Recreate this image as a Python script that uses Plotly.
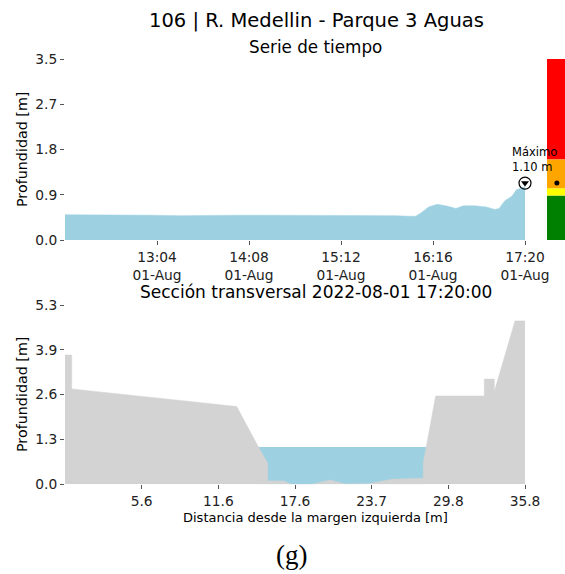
import plotly.graph_objects as go

# ---------------- data ----------------
times = ["12:00", "12:05", "12:20", "12:40", "13:00", "13:20", "13:40", "14:00",
         "14:20", "14:40", "15:00", "15:20", "15:40", "15:50", "16:00", "16:04",
         "16:08", "16:13", "16:19", "16:25", "16:32", "16:37", "16:45", "16:53",
         "16:59", "17:02", "17:06", "17:11", "17:14", "17:17", "17:20"]
depth = [0.49, 0.49, 0.48, 0.48, 0.48, 0.47, 0.48, 0.48,
         0.48, 0.48, 0.48, 0.48, 0.48, 0.47, 0.46, 0.46,
         0.53, 0.64, 0.69, 0.66, 0.61, 0.66, 0.66, 0.64,
         0.59, 0.61, 0.76, 0.85, 0.97, 1.00, 1.03]
day = "2022-08-01"
max_time = "17:20"
max_depth = 1.10

ts_ticks = ["13:04", "14:08", "15:12", "16:16", "17:20"]
ts_tick_labels = ["13:04<br>01-Aug", "14:08<br>01-Aug", "15:12<br>01-Aug",
                  "16:16<br>01-Aug", "17:20<br>01-Aug"]
ts_yticks = [0.0, 0.875, 1.75, 2.625, 3.5]
ts_ytick_labels = ["0.0", "0.9", "1.8", "2.7", "3.5"]

# alert levels (upper limits) and colours
level_tops = [0.86, 1.00, 1.56, 3.50]
level_colors = ["#008000", "#ffff00", "#ffa500", "#ff0000"]

# cross section
dist = [-0.5, 0.03, 0.03, 13.05, 14.75, 15.5, 15.5, 16.73, 17.52, 18.04, 19.0,
        20.41, 21.6, 23.57, 25.28, 27.77, 27.77, 28.75, 32.59, 32.59, 33.38,
        33.38, 35.01, 35.8]
ground = [3.82, 3.82, 2.82, 2.30, 1.11, 0.62, 0.10, 0.10, -0.02, -0.03, 0.0,
          0.13, 0.01, 0.02, 0.15, 0.18, 0.62, 2.61, 2.61, 3.11, 3.11,
          2.74, 4.83, 4.83]
water_x = [14.75, 28.0]
water_level = 1.10

cs_xticks = [5.55, 11.6, 17.65, 23.7, 29.75, 35.8]
cs_xtick_labels = ["5.6", "11.6", "17.6", "23.7", "29.8", "35.8"]
cs_yticks = [0.0, 1.325, 2.65, 3.975, 5.3]
cs_ytick_labels = ["0.0", "1.3", "2.6", "3.9", "5.3"]

# ---------------- figure ----------------
W, H = 565, 574
def px(x):
    return x / W
def py(y):
    return 1 - y / H

FONT = "DejaVu Sans"
BLUE = "#9dd1e1"
GRAY = "#d3d3d3"

fig = go.Figure()

tx = [f"{day} {t}" for t in times]
fig.add_trace(go.Scatter(x=tx, y=depth, mode="lines", fill="tozeroy",
                         line=dict(color=BLUE, width=0.5), fillcolor=BLUE,
                         xaxis="x", yaxis="y", hoverinfo="skip"))
fig.add_trace(go.Scatter(x=[f"{day} {max_time}"], y=[max_depth], mode="markers",
                         marker=dict(symbol="circle-open", size=12,
                                     color="black", line=dict(width=1.2)),
                         xaxis="x", yaxis="y", cliponaxis=False))
fig.add_trace(go.Scatter(x=[f"{day} {max_time}"], y=[max_depth], mode="markers",
                         marker=dict(symbol="triangle-down", size=7, color="black"),
                         xaxis="x", yaxis="y", cliponaxis=False))

# alert bar
prev = 0.0
for top, col in zip(level_tops, level_colors):
    fig.add_trace(go.Bar(x=[0.5], y=[top - prev], base=[prev], width=[1.0],
                         marker=dict(color=col, line=dict(width=0)),
                         xaxis="x3", yaxis="y3"))
    prev = top
fig.add_trace(go.Scatter(x=[0.55], y=[max_depth], mode="markers",
                         marker=dict(size=5, color="black"),
                         xaxis="x3", yaxis="y3"))

# cross section
fig.add_trace(go.Scatter(x=water_x, y=[water_level] * len(water_x), mode="lines",
                         fill="tozeroy", line=dict(color=BLUE, width=0),
                         fillcolor=BLUE, xaxis="x2", yaxis="y2"))
fig.add_trace(go.Scatter(x=dist, y=ground, mode="lines", fill="tozeroy",
                         line=dict(color=GRAY, width=0.5), fillcolor=GRAY,
                         xaxis="x2", yaxis="y2"))

tick_font = dict(family=FONT, size=13.8, color="#222")
axis_common = dict(showgrid=False, zeroline=False, showline=False,
                   ticks="outside", ticklen=4, tickwidth=1, tickcolor="#555",
                   tickfont=tick_font, automargin=False)

fig.update_layout(
    width=W, height=H,
    margin=dict(l=0, r=0, t=0, b=0),
    paper_bgcolor="white", plot_bgcolor="white",
    showlegend=False, barmode="overlay",
    xaxis=dict(domain=[px(65), px(525)], type="date",
               range=[f"{day} 12:00", f"{day} 17:20"],
               tickvals=[f"{day} {t}" for t in ts_ticks],
               ticktext=ts_tick_labels, anchor="y", **axis_common),
    yaxis=dict(domain=[py(240), py(59)], range=[0, 3.5],
               tickvals=ts_yticks, ticktext=ts_ytick_labels,
               anchor="x", **axis_common),
    xaxis3=dict(domain=[px(547), 1.0], range=[0, 1], visible=False,
                anchor="y3"),
    yaxis3=dict(domain=[py(240), py(59)], range=[0, 3.5], visible=False,
                anchor="x3"),
    xaxis2=dict(domain=[px(65), px(525)], range=[-0.5, 35.8],
                tickvals=cs_xticks, ticktext=cs_xtick_labels,
                anchor="y2", **axis_common),
    yaxis2=dict(domain=[py(484.3), py(305)], range=[0, 5.3],
                tickvals=cs_yticks, ticktext=cs_ytick_labels,
                anchor="x2", **axis_common),
)

def ann(text, x, y, size, angle=0, xanchor="center", family=FONT, align="center"):
    fig.add_annotation(text=text, x=px(x), y=py(y), xref="paper", yref="paper",
                       showarrow=False, xanchor=xanchor, yanchor="middle",
                       textangle=angle, align=align,
                       font=dict(family=family, size=size, color="black"))

ann("106 | R. Medellin - Parque 3 Aguas", 316, 20, 19.5)
ann("Serie de tiempo", 315.5, 47, 16.8)
ann("Sección transversal 2022-08-01 17:20:00", 315.7, 292, 17)
ann("Distancia desde la margen izquierda [m]", 315.5, 517, 13)
ann("Profundidad [m]", 22, 150, 14.3, angle=-90)
ann("Profundidad [m]", 22, 395, 14.3, angle=-90)
ann("Máximo<br>1.10 m", 510, 159, 11.5, xanchor="left", align="left")
ann("(g)", 291.5, 555, 27, family="Liberation Serif")

fig.write_html("out.html", config={"displayModeBar": False},
               post_script="document.body.style.margin='0';document.body.style.overflow='hidden';")
